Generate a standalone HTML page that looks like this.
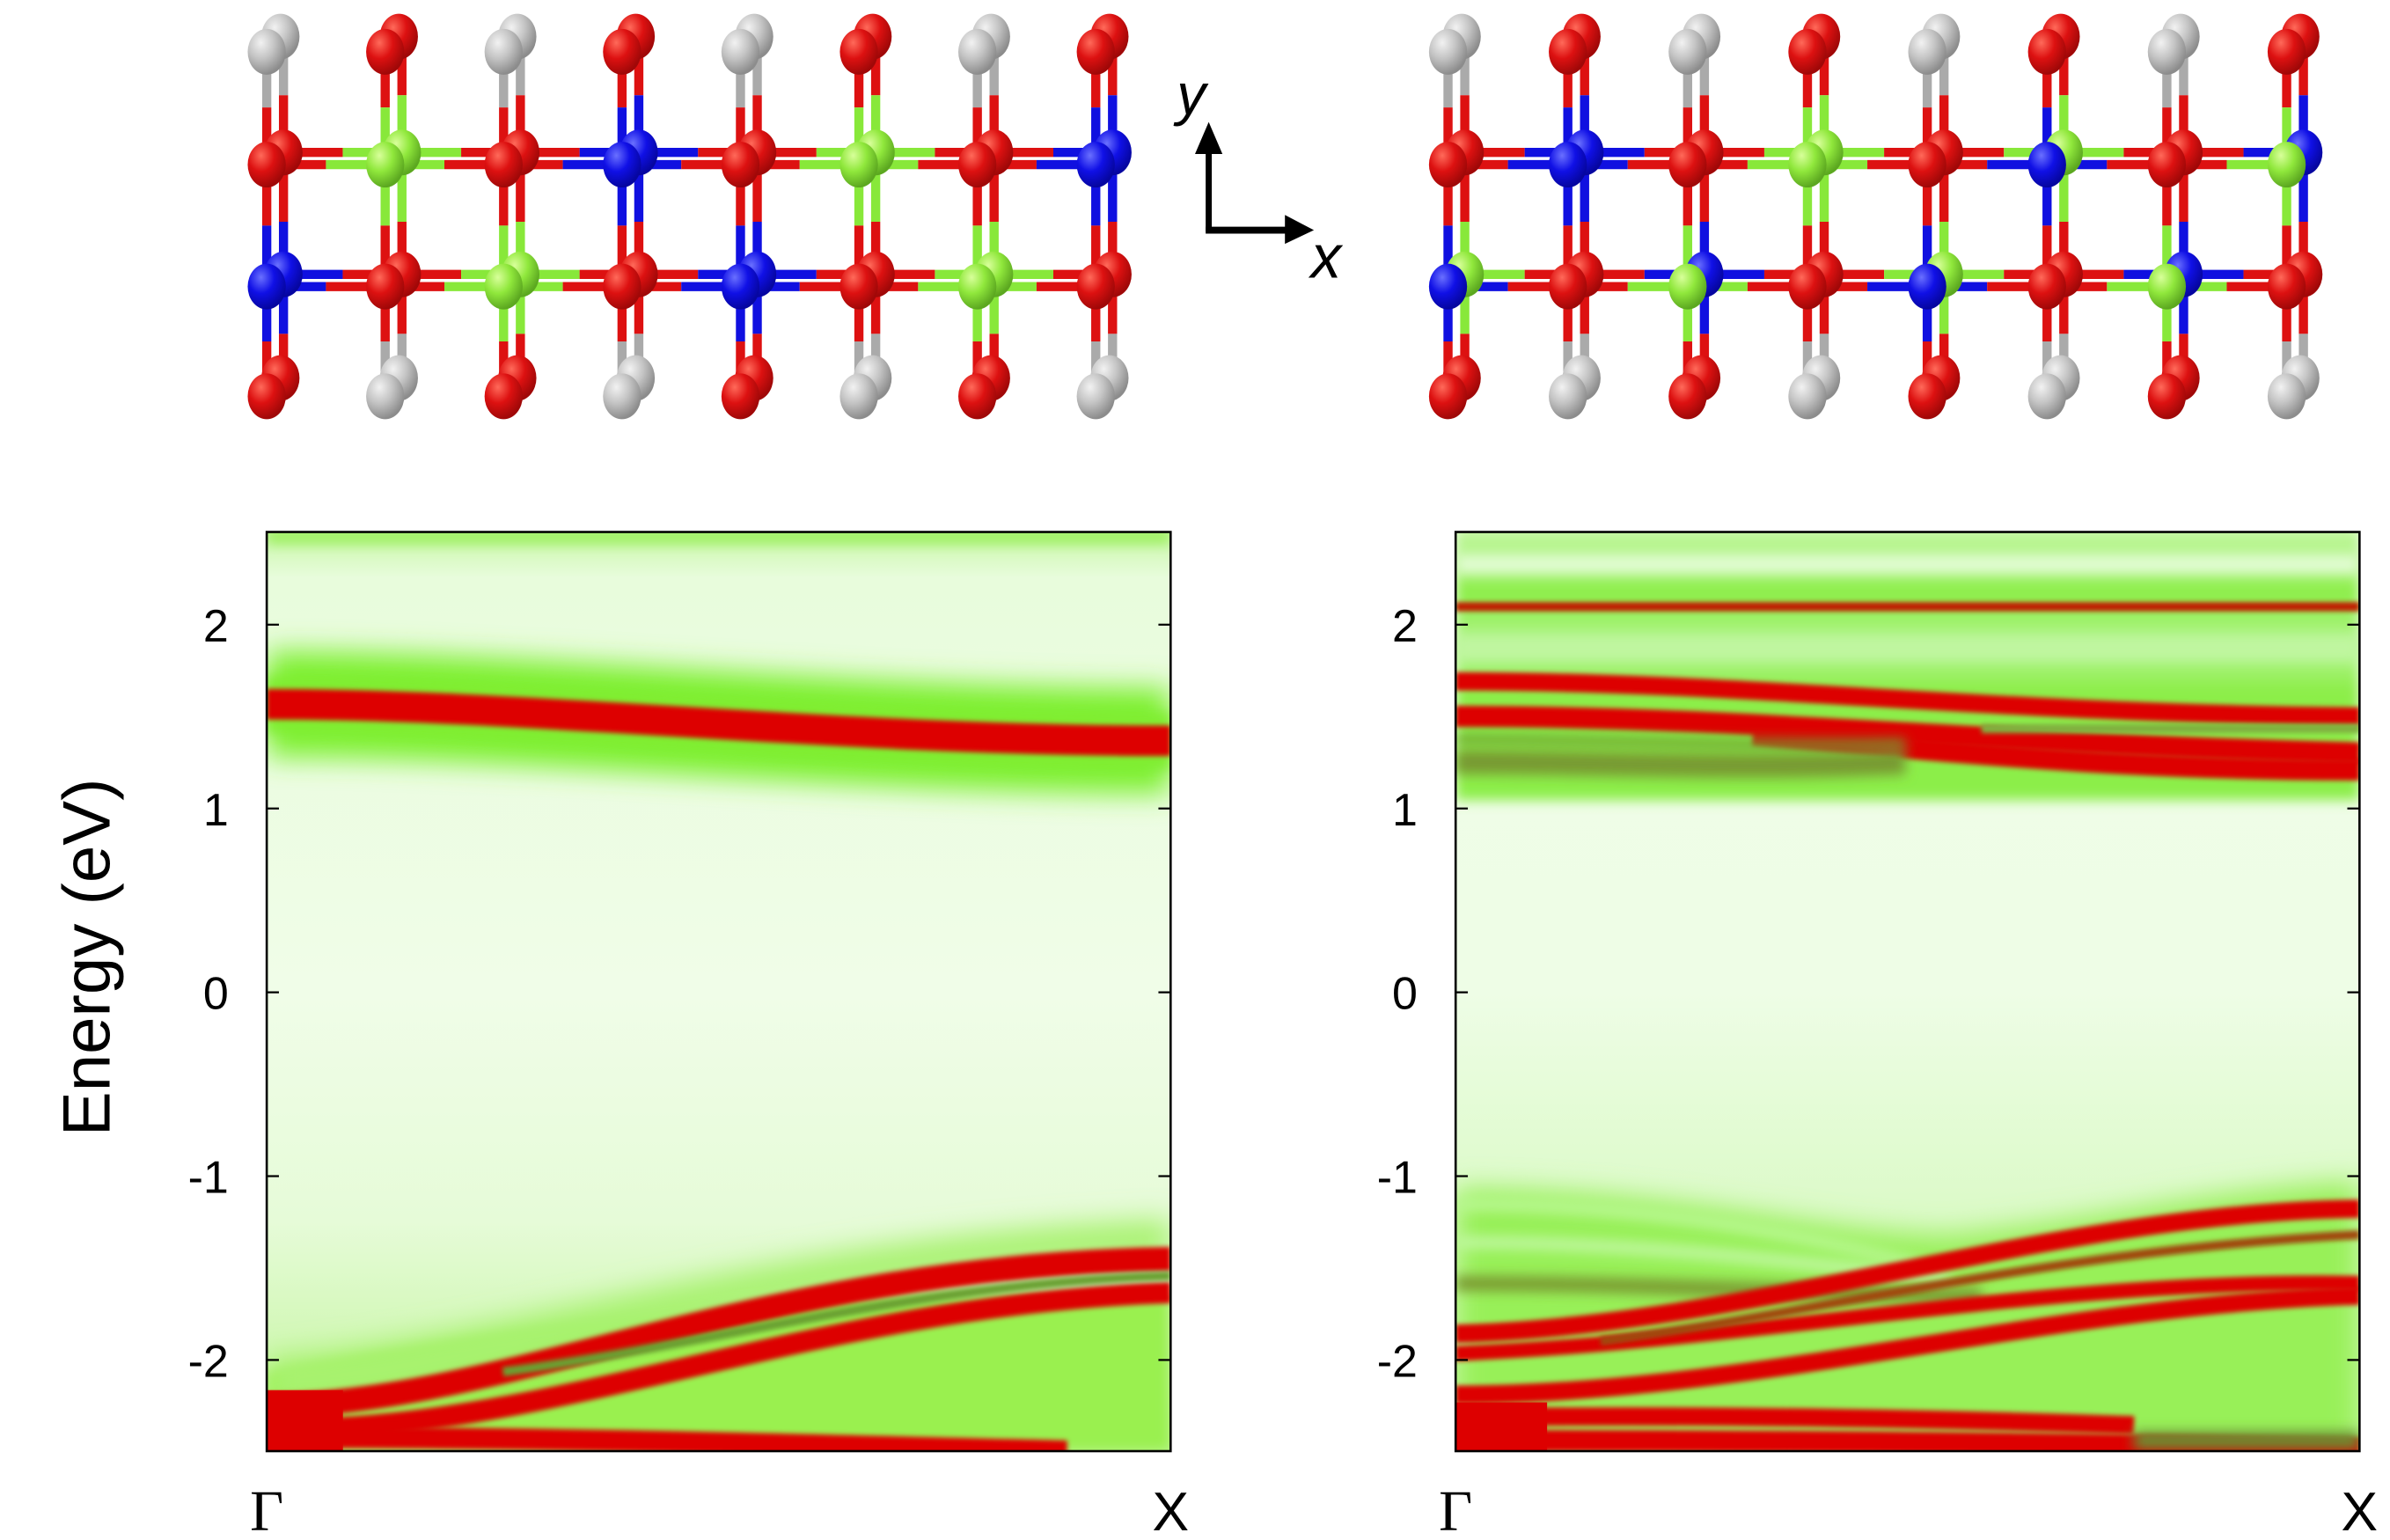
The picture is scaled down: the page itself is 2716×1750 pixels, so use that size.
<!DOCTYPE html>
<html><head><meta charset="utf-8"><style>
html,body{margin:0;padding:0;background:#fff;}
svg{display:block;}
text{font-family:"Liberation Sans",sans-serif;}
</style></head><body>
<svg id="s" width="2716" height="1750" viewBox="0 0 1568 1010.3" xmlns="http://www.w3.org/2000/svg">
<defs>
<filter id="b1" filterUnits="userSpaceOnUse" x="0" y="0" width="1568" height="1010"><feGaussianBlur stdDeviation="9"/></filter>
<filter id="b2" filterUnits="userSpaceOnUse" x="0" y="0" width="1568" height="1010"><feGaussianBlur stdDeviation="4"/></filter>
<filter id="b3" filterUnits="userSpaceOnUse" x="0" y="0" width="1568" height="1010"><feGaussianBlur stdDeviation="1.5"/></filter>
<clipPath id="c1"><rect x="175" y="349" width="593" height="603"/></clipPath>
<clipPath id="c2"><rect x="955" y="349" width="593" height="603"/></clipPath>
<radialGradient id="gr" cx="35%" cy="30%" r="70%"><stop offset="0" stop-color="#ff6a5a"/><stop offset="0.5" stop-color="#dd1111"/><stop offset="1" stop-color="#a00808"/></radialGradient>
<radialGradient id="gg" cx="35%" cy="30%" r="70%"><stop offset="0" stop-color="#f2f2f2"/><stop offset="0.5" stop-color="#c4c4c4"/><stop offset="1" stop-color="#8c8c8c"/></radialGradient>
<radialGradient id="gn" cx="35%" cy="30%" r="70%"><stop offset="0" stop-color="#d8ff9a"/><stop offset="0.5" stop-color="#90e83c"/><stop offset="1" stop-color="#5ca820"/></radialGradient>
<radialGradient id="gb" cx="35%" cy="30%" r="70%"><stop offset="0" stop-color="#6a70ff"/><stop offset="0.5" stop-color="#1010e6"/><stop offset="1" stop-color="#0606a0"/></radialGradient>
<linearGradient id="bgL" x1="0" y1="0" x2="0" y2="1">
<stop offset="0" stop-color="#c8f7a8"/><stop offset="0.05" stop-color="#e8fcdc"/><stop offset="0.5" stop-color="#f0fde8"/><stop offset="0.75" stop-color="#e6fbd8"/><stop offset="1" stop-color="#c0f598"/></linearGradient>
<linearGradient id="bgR" x1="0" y1="0" x2="0" y2="1">
<stop offset="0" stop-color="#f0fde8"/><stop offset="0.5" stop-color="#eefde6"/><stop offset="1" stop-color="#c8f7a8"/></linearGradient>
<linearGradient id="topR" x1="0" y1="0" x2="0" y2="1">
<stop offset="0" stop-color="#c8f8a8"/><stop offset="0.12" stop-color="#a8f278"/><stop offset="0.25" stop-color="#8cee48"/><stop offset="0.45" stop-color="#b4f590"/><stop offset="0.6" stop-color="#8cee48"/><stop offset="1" stop-color="#8cee48"/></linearGradient>
</defs>
<g id="mol"></g>
<path d="M793 152 V98" stroke="#000" stroke-width="4" fill="none"/>
<path d="M784 101 L793 80 L802 101 Z" fill="#000"/>
<path d="M791 151 H845" stroke="#000" stroke-width="4.5" fill="none"/>
<path d="M843 141 L862 151 L843 160 Z" fill="#000"/>
<text x="772" y="75" font-size="38" font-style="italic">y</text>
<text x="860" y="182" font-size="40" font-style="italic">x</text>

<!-- LEFT PLOT -->
<g clip-path="url(#c1)">
<rect x="175" y="349" width="593" height="603" fill="url(#bgL)"/>
<path d="M175 352 H768" stroke="#9ef060" stroke-width="10" filter="url(#b2)"/>
<path d="M175 462 C350 462 550 486 768 486" stroke="#7ef030" stroke-width="70" fill="none" filter="url(#b1)"/>
<path d="M175 462 C350 462 550 486 768 486" stroke="#80ee30" stroke-width="38" fill="none" filter="url(#b2)"/>
<path d="M175 462 C350 462 550 486 768 486" stroke="#dd0000" stroke-width="20" fill="none" filter="url(#b3)"/>
<path d="M175 900 L175 952 L768 952 L768 850 C600 845 450 850 175 900 Z" fill="#9af050" filter="url(#b2)"/>
<path d="M175 922 C330 922 500 830 768 826 L768 800 C500 810 330 880 175 890 Z" fill="#a8f270" filter="url(#b1)"/>
<path d="M175 922 C330 922 500 830 768 826" stroke="#dd0000" stroke-width="16" fill="none" filter="url(#b3)"/>
<path d="M215 937 C380 930 550 855 768 848" stroke="#dd0000" stroke-width="14" fill="none" filter="url(#b3)"/>
<path d="M330 900 C480 880 600 842 768 837" stroke="#6aa030" stroke-width="6" fill="none" filter="url(#b3)"/>
<path d="M175 943 C350 943 500 947 700 952" stroke="#dd0000" stroke-width="14" fill="none" filter="url(#b3)"/>
<rect x="175" y="912" width="50" height="40" fill="#dd0000"/>
</g>
<rect x="175" y="349" width="593" height="603" fill="none" stroke="#000" stroke-width="1.5"/>

<!-- RIGHT PLOT -->
<g clip-path="url(#c2)">
<rect x="955" y="349" width="593" height="603" fill="url(#bgR)"/>
<rect x="955" y="345" width="593" height="180" fill="url(#topR)" filter="url(#b2)"/>
<path d="M955 370 H1548" stroke="#e0fcd0" stroke-width="14" filter="url(#b2)"/>
<path d="M955 425 H1548" stroke="#c0f6a0" stroke-width="16" filter="url(#b2)"/>
<path d="M955 398 H1548" stroke="#c01a00" stroke-width="6" filter="url(#b3)"/>
<path d="M955 447 C1150 447 1300 468 1548 470" stroke="#dd0000" stroke-width="12" fill="none" filter="url(#b3)"/>
<path d="M955 470 C1150 470 1300 488 1548 494" stroke="#dd0000" stroke-width="14" fill="none" filter="url(#b3)"/>
<path d="M1150 482 C1300 495 1400 505 1548 505" stroke="#dd0000" stroke-width="14" fill="none" filter="url(#b3)"/>
<path d="M955 500 C1050 500 1150 505 1250 500" stroke="#789a30" stroke-width="16" fill="none" filter="url(#b2)"/>
<path d="M955 485 C1050 485 1150 490 1250 488" stroke="#70a030" stroke-width="6" fill="none" filter="url(#b2)"/>
<path d="M1300 478 H1548" stroke="#80b040" stroke-width="6" filter="url(#b3)"/>
<path d="M955 780 C1100 780 1200 810 1280 810 C1380 800 1450 780 1548 775 L1548 952 L955 952 Z" fill="#98f058" filter="url(#b1)"/>
<path d="M955 790 C1100 790 1200 815 1260 830" stroke="#b8f890" stroke-width="8" fill="none" filter="url(#b2)"/>
<path d="M955 815 C1080 815 1200 830 1280 840" stroke="#c0f8a0" stroke-width="8" fill="none" filter="url(#b2)"/>
<path d="M955 842 C1100 842 1200 850 1300 850" stroke="#7a9a30" stroke-width="10" fill="none" filter="url(#b2)"/>
<path d="M955 875 C1150 870 1350 795 1548 793" stroke="#dd0000" stroke-width="12" fill="none" filter="url(#b3)"/>
<path d="M955 888 C1150 880 1350 838 1548 842" stroke="#dd0000" stroke-width="10" fill="none" filter="url(#b3)"/>
<path d="M1050 880 C1200 860 1350 820 1548 810" stroke="#a04a10" stroke-width="6" fill="none" filter="url(#b3)"/>
<path d="M955 915 C1150 915 1350 855 1548 850" stroke="#dd0000" stroke-width="12" fill="none" filter="url(#b3)"/>
<path d="M955 945 C1200 945 1350 947 1548 950" stroke="#dd0000" stroke-width="14" fill="none" filter="url(#b3)"/>
<path d="M955 930 C1100 928 1250 930 1400 935" stroke="#dd0000" stroke-width="12" fill="none" filter="url(#b3)"/>
<rect x="955" y="920" width="60" height="32" fill="#dd0000"/>
<path d="M1400 945 H1548" stroke="#6a9030" stroke-width="12" filter="url(#b2)"/>
</g>
<rect x="955" y="349" width="593" height="603" fill="none" stroke="#000" stroke-width="1.5"/>

<g id="ticks" stroke="#000" stroke-width="1.3"></g>
<g font-size="30" text-anchor="end" id="tl"></g>
<text x="0" y="0" font-size="44" text-anchor="middle" transform="translate(72 628) rotate(-90)">Energy (eV)</text>
<text x="175" y="1004" font-size="38" text-anchor="middle" style="font-family:'Liberation Serif',serif">Γ</text>
<text x="768" y="1004" font-size="36" text-anchor="middle">X</text>
<text x="955" y="1004" font-size="38" text-anchor="middle" style="font-family:'Liberation Serif',serif">Γ</text>
<text x="1548" y="1004" font-size="36" text-anchor="middle">X</text>
</svg>
<script>
var NS="http://www.w3.org/2000/svg";
function el(p,t,a){var e=document.createElementNS(NS,t);for(var k in a)e.setAttribute(k,a[k]);p.appendChild(e);return e;}
var tk=document.getElementById('ticks'),tl=document.getElementById('tl');
[[2,"2"],[1,"1"],[0,"0"],[-1,"-1"],[-2,"-2"]].forEach(function(v){
 var y=651-v[0]*120.6;
 [175,955].forEach(function(x0){el(tk,'line',{x1:x0,y1:y,x2:x0+8,y2:y});el(tk,'line',{x1:x0+593,y1:y,x2:x0+585,y2:y});
  var t=el(tl,'text',{x:x0-25,y:y+11});t.textContent=v[1];});
});
var C={r:["#dd1111","url(#gr)"],g:["#aaaaaa","url(#gg)"],n:["#88e83a","url(#gn)"],b:["#1010e0","url(#gb)"]};
var m=document.getElementById('mol');
function mol(x0,dx,r1,r2,r1b,r2b){
 var gB=el(m,'g',{}),gA=el(m,'g',{});
 for(var i=0;i<8;i++){
  var cx=x0+i*dx, top=i%2?'r':'g', bot=i%2?'g':'r';
  var segs=[[25,100,top,r1b[i]],[108,183,r1b[i],r2b[i]],[188,250,r2b[i],bot]];
  segs.forEach(function(s){var xm=cx+8;var ym=(s[0]+s[1])/2;
   el(gB,'line',{x1:xm,y1:s[0],x2:xm,y2:ym,stroke:C[s[2]][0],'stroke-width':6});
   el(gB,'line',{x1:xm,y1:ym,x2:xm,y2:s[1],stroke:C[s[3]][0],'stroke-width':6});});
  var segs2=[[33,108,top,r1[i]],[108,188,r1[i],r2[i]],[188,260,r2[i],bot]];
  segs2.forEach(function(s){var xm=cx-3;var ym=(s[0]+s[1])/2;
   el(gB,'line',{x1:xm,y1:s[0],x2:xm,y2:ym,stroke:C[s[2]][0],'stroke-width':6});
   el(gB,'line',{x1:xm,y1:ym,x2:xm,y2:s[1],stroke:C[s[3]][0],'stroke-width':6});});
  if(i<7){
   [[100,8,r1b],[108,-3,r1],[180,8,r2b],[188,-3,r2]].forEach(function(h){
    var a=cx+h[1],b=cx+dx+h[1],mid=(a+b)/2;var arr=h[2];
    el(gB,'line',{x1:a,y1:h[0],x2:mid,y2:h[0],stroke:C[arr[i]][0],'stroke-width':6});
    el(gB,'line',{x1:mid,y1:h[0],x2:b,y2:h[0],stroke:C[arr[i+1]][0],'stroke-width':6});});
  }
  var rx=12.5,ry=15;
  el(gA,'ellipse',{cx:cx+6,cy:24,rx:rx,ry:ry,fill:C[top][1]});
  el(gA,'ellipse',{cx:cx-3,cy:34,rx:rx,ry:ry,fill:C[top][1]});
  el(gA,'ellipse',{cx:cx+8,cy:100,rx:rx,ry:ry,fill:C[r1b[i]][1]});
  el(gA,'ellipse',{cx:cx-3,cy:108,rx:rx,ry:ry,fill:C[r1[i]][1]});
  el(gA,'ellipse',{cx:cx+8,cy:180,rx:rx,ry:ry,fill:C[r2b[i]][1]});
  el(gA,'ellipse',{cx:cx-3,cy:188,rx:rx,ry:ry,fill:C[r2[i]][1]});
  el(gA,'ellipse',{cx:cx+6,cy:248,rx:rx,ry:ry,fill:C[bot][1]});
  el(gA,'ellipse',{cx:cx-3,cy:260,rx:rx,ry:ry,fill:C[bot][1]});
 }
}
var L1="rnrbrnrb".split(''),L2="brnrbrnr".split('');
mol(178,77.7,L1,L2,L1,L2);
mol(953,78.6,"rbrnrbrn".split(''),"brnrbrnr".split(''),"rbrnrnrb".split(''),"nrbrnrbr".split(''));
</script>
</body></html>
